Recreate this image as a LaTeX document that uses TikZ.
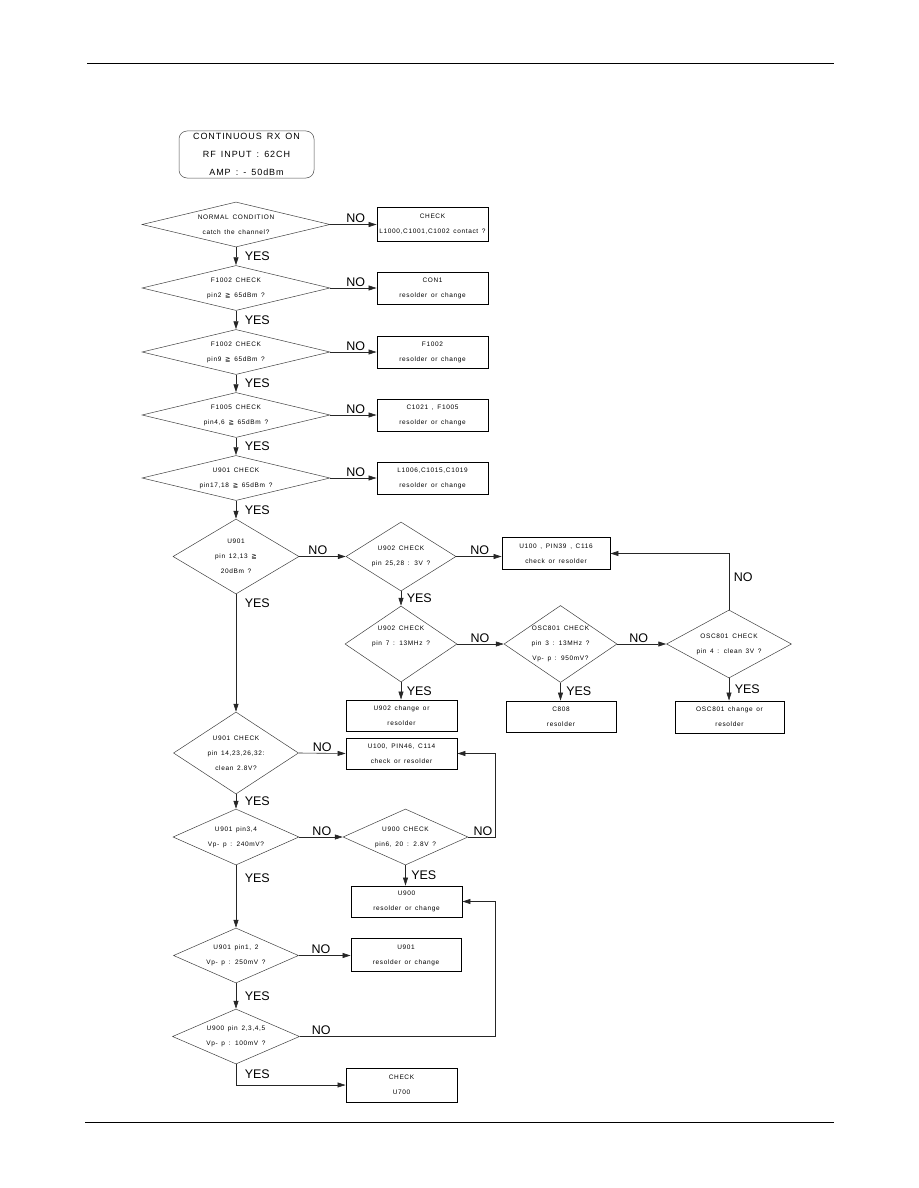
\documentclass[tikz,border=0pt]{standalone}
\usepackage{fontspec}
\setmainfont{Liberation Sans}
\newfontfamily\smf[LetterSpace=10,WordSpace=1.5]{Liberation Sans}
\newfontfamily\symf{DejaVu Sans}
\usetikzlibrary{shapes.geometric,arrows.meta}
\newcommand{\gq}{{\symf ≧}}
\tikzset{
  txt/.style={font=\smf\fontsize{6.5}{15}\selectfont, align=center, inner sep=0pt},
  lbl/.style={font=\fontsize{12.5}{14}\selectfont, inner sep=1.5pt},
  dia/.style={diamond, draw=black!75, line width=0.5pt, inner sep=0pt},
  box/.style={rectangle, draw=black, line width=0.9pt, txt},
  arr/.style={draw=black!85, line width=0.6pt, -{Triangle[length=8pt,width=5pt]}},
  yesA/.style={lbl, anchor=west, xshift=7pt},
  yesB/.style={lbl, anchor=west, xshift=4pt},
  noA/.style={lbl, above},
}
\begin{document}
\begin{tikzpicture}[x=1pt,y=-1pt]
\useasboundingbox (0,0) rectangle (918,1188);
\draw[line width=1pt] (87,64) -- (834,64);
\draw[line width=1pt] (85,1122) -- (834,1122);

\node[draw=black!70, rounded corners=8pt, line width=0.5pt, minimum width=135pt, minimum height=47pt,
  font=\smf\fontsize{9}{18}\selectfont, align=center, inner sep=0pt] (start) at (246.5,154.5)
  {CONTINUOUS RX ON\\RF INPUT : 62CH\\AMP : - 50dBm};

% column A diamonds
\node[dia, minimum width=188pt, minimum height=45pt, label={[txt]center:{NORMAL CONDITION\\catch the channel?}}] (d1) at (236,224.5) {};
\node[dia, minimum width=188pt, minimum height=45pt, label={[txt]center:{F1002 CHECK\\pin2 \gq\ 65dBm ?}}] (d2) at (236,288) {};
\node[dia, minimum width=188pt, minimum height=45pt, label={[txt]center:{F1002 CHECK\\pin9 \gq\ 65dBm ?}}] (d3) at (236,352) {};
\node[dia, minimum width=188pt, minimum height=45pt, label={[txt]center:{F1005 CHECK\\pin4,6 \gq\ 65dBm ?}}] (d4) at (236,415) {};
\node[dia, minimum width=188pt, minimum height=45pt, label={[txt]center:{U901 CHECK\\pin17,18 \gq\ 65dBm ?}}] (d5) at (236,478) {};
\node[dia, minimum width=126pt, minimum height=75pt, label={[txt]center:{U901\\pin 12,13 \gq\\20dBm ?}}] (d6) at (236,556.5) {};
\node[dia, minimum width=125pt, minimum height=82pt, label={[txt]center:{U901 CHECK\\pin 14,23,26,32:\\clean 2.8V?}}] (d9) at (236,753) {};
\node[dia, minimum width=126pt, minimum height=56pt, label={[txt]center:{U901 pin3,4\\Vp- p : 240mV?}}] (d13) at (236,837) {};
\node[dia, minimum width=125pt, minimum height=55pt, label={[txt]center:{U901 pin1, 2\\Vp- p : 250mV ?}}] (d14) at (236,955.5) {};
\node[dia, minimum width=127pt, minimum height=55pt, label={[txt]center:{U900 pin 2,3,4,5\\Vp- p : 100mV ?}}] (d15) at (236,1036.5) {};

% column B boxes
\node[box, minimum width=111pt, minimum height=34pt] (b1) at (432.5,224.5) {CHECK\\L1000,C1001,C1002 contact ?};
\node[box, minimum width=111pt, minimum height=32pt] (b2) at (432.5,288) {CON1\\resolder or change};
\node[box, minimum width=111pt, minimum height=32pt] (b3) at (432.5,352) {F1002\\resolder or change};
\node[box, minimum width=111pt, minimum height=32pt] (b4) at (432.5,415) {C1021 , F1005\\resolder or change};
\node[box, minimum width=111pt, minimum height=32pt] (b5) at (432.5,478) {L1006,C1015,C1019\\resolder or change};

% middle / right
\node[dia, minimum width=110pt, minimum height=69pt, label={[txt]center:{U902 CHECK\\pin 25,28 : 3V ?}}] (d7) at (401,556.5) {};
\node[dia, minimum width=112pt, minimum height=76pt, label={[txt,yshift=8pt]center:{U902 CHECK\\pin 7 : 13MHz ?}}] (d8) at (401,644) {};
\node[box, minimum width=111pt, minimum height=31pt] (bu902) at (401.5,715.5) {U902 change or\\resolder};
\node[box, minimum width=108pt, minimum height=32pt] (bu100a) at (556,553.5) {U100 , PIN39 , C116\\check or resolder};
\node[dia, minimum width=113pt, minimum height=77pt, label={[txt]center:{OSC801 CHECK\\pin 3 : 13MHz ?\\Vp- p : 950mV?}}] (d10) at (560.5,644) {};
\node[box, minimum width=110pt, minimum height=31pt] (bc808) at (561,716.5) {C808\\resolder};
\node[dia, minimum width=125pt, minimum height=68pt, label={[txt]center:{OSC801 CHECK\\pin 4 : clean 3V ?}}] (d11) at (729,644) {};
\node[box, minimum width=109pt, minimum height=32pt] (bosc) at (729.5,717) {OSC801 change or\\resolder};
\node[box, minimum width=111pt, minimum height=31pt] (bu100b) at (401.5,753.5) {U100, PIN46, C114\\check or resolder};
\node[dia, minimum width=125pt, minimum height=56pt, label={[txt]center:{U900 CHECK\\pin6, 20 : 2.8V ?}}] (d12) at (405.5,837) {};
\node[box, minimum width=111pt, minimum height=31pt] (bu900) at (406.5,901.5) {U900\\resolder or change};
\node[box, minimum width=110pt, minimum height=33pt] (bu901) at (406,955) {U901\\resolder or change};
\node[box, minimum width=111pt, minimum height=34pt] (bu700) at (401.5,1085) {CHECK\\U700};

\coordinate (r1) at (495,837);
\coordinate (r2) at (495,1036.5);

% NO arrows column A -> B
\draw[arr] (d1.east) -- node[noA,pos=0.55]{NO} (b1.west);
\draw[arr] (d2.east) -- node[noA,pos=0.55]{NO} (b2.west);
\draw[arr] (d3.east) -- node[noA,pos=0.55]{NO} (b3.west);
\draw[arr] (d4.east) -- node[noA,pos=0.55]{NO} (b4.west);
\draw[arr] (d5.east) -- node[noA,pos=0.55]{NO} (b5.west);

% YES arrows column A
\draw[arr] (d1.south) -- node[yesA]{YES} (d2.north);
\draw[arr] (d2.south) -- node[yesA]{YES} (d3.north);
\draw[arr] (d3.south) -- node[yesA]{YES} (d4.north);
\draw[arr] (d4.south) -- node[yesA]{YES} (d5.north);
\draw[arr] (d5.south) -- node[yesA]{YES} (d6.north);
\draw[arr] (d6.south) -- node[yesA,pos=0.08]{YES} (d9.north);
\draw[arr] (d9.south) -- node[yesA]{YES} (d13.north);
\draw[arr] (d13.south) -- node[yesA,pos=0.2]{YES} (d14.north);
\draw[arr] (d14.south) -- node[yesA]{YES} (d15.north);
\draw[arr] (d15.south) |- node[yesA,pos=0.25]{YES} (bu700.west);

% upper middle
\draw[arr] (d6.east) -- node[noA,pos=0.4]{NO} (d7.west);
\draw[arr] (d7.east) -- node[noA,pos=0.52]{NO} (d7.east -| bu100a.west);
\draw[arr] (d7.south) -- node[yesB]{YES} (d8.north);
\draw[arr] (d8.south) -- node[yesB]{YES} (d8.south |- bu902.north);
\draw[arr] (d8.east) -- node[noA,pos=0.49]{NO} (d10.west);
\draw[arr] (d10.south) -- node[yesB]{YES} (d10.south |- bc808.north);
\draw[arr] (d10.east) -- node[noA,pos=0.44]{NO} (d11.west);
\draw[arr] (d11.south) -- node[yesB]{YES} (d11.south |- bosc.north);
\draw[arr] (d11.north) |- node[lbl,anchor=west,xshift=3pt,pos=0.29]{NO} (bu100a.east);

% lower middle
\draw[arr] (d9.east) -- node[noA,pos=0.5]{NO} (bu100b.west);
\draw[arr] (d13.east) -- node[noA,pos=0.52]{NO} (d12.west);
\draw[arr] (d12.east) -- node[noA,pos=0.55]{NO} (r1) |- (bu100b.east);
\draw[arr] (d12.south) -- node[yesB]{YES} (d12.south |- bu900.north);
\draw[arr] (d14.east) -- node[noA,pos=0.43]{NO} (d14.east -| bu901.west);
\draw[arr] (d15.east) -- node[noA,pos=0.11]{NO} (r2) |- (bu900.east);
\end{tikzpicture}
\end{document}
